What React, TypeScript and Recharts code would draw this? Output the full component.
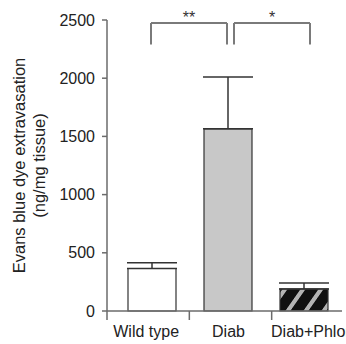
import React from "react";
import { BarChart, Bar, XAxis, YAxis, ErrorBar, Cell, ReferenceLine } from "recharts";

const groups = ["Wild type", "Diab", "Diab+Phlor"];
const extravasation = [365, 1565, 190];
const sem = [50, 445, 50];
const yTicks = [0, 500, 1000, 1500, 2000, 2500];
const barFills = ["#ffffff", "#c8c8c8", "url(#phlorHatch)"];

// significance brackets between groups
const comparisons = [
  { from: "Wild type", to: "Diab", stars: "**" },
  { from: "Diab", to: "Diab+Phlor", stars: "*" },
];
const bracketTop = 2475;
const bracketFoot = 2290;

const data = groups.map((group, i) => ({
  group,
  value: extravasation[i],
  err: [0, sem[i]],
}));

const FONT = "'Liberation Sans', Arial, Helvetica, sans-serif";
const AXIS = "#6b6b6b";
const BRACKET = "#7a7a7a";
const titleStyle = { fontSize: "16.5px", fontFamily: FONT, fill: "#222" };

function GroupTick(props: any) {
  const { x, y, payload, index } = props;
  const half = payload && payload.offset ? payload.offset : 41;
  return (
    <g>
      {index < groups.length - 1 && (
        <line x1={x + half} x2={x + half} y1={y - 15} y2={y - 6} stroke={AXIS} strokeWidth={1.5} />
      )}
      <text x={x - 2} y={y} dy="0.71em" textAnchor="middle" fontSize={16} fill="#222">
        {payload.value}
      </text>
    </g>
  );
}

// the y axis line runs a little past the x axis
function AxisCorner(props: any) {
  const vb = props.viewBox || {};
  return <line x1={vb.x} x2={vb.x} y1={vb.y} y2={vb.y + 9} stroke={AXIS} strokeWidth={1.5} />;
}

function YTitle(props: any) {
  const vb = props.viewBox || {};
  const cy = vb.y + vb.height / 2;
  const x1 = vb.x - 28;
  const x2 = vb.x - 8;
  return (
    <g>
      <text x={x1} y={cy} dy="0.35em" textAnchor="middle" style={titleStyle} transform={`rotate(-90 ${x1} ${cy})`}>
        Evans blue dye extravasation
      </text>
      <text x={x2} y={cy} dy="0.35em" textAnchor="middle" style={titleStyle} transform={`rotate(-90 ${x2} ${cy})`}>
        (ng/mg tissue)
      </text>
    </g>
  );
}

// brackets that share a bar are pulled apart a little
function bracketShape(dx: number, stars?: string) {
  return (p: any) => (
    <g>
      <line x1={p.x1 + dx} x2={p.x2 + dx} y1={p.y1} y2={p.y2} stroke={BRACKET} strokeWidth={2} />
      {stars && (
        <text x={(p.x1 + p.x2) / 2 + dx} y={p.y1 + 0.5} textAnchor="middle" fontSize={16} fill="#333">
          {stars}
        </text>
      )}
    </g>
  );
}

export default function App() {
  return (
    <div style={{ position: "absolute", left: 0, top: 0, background: "#fff" }}>
      <BarChart
        width={346}
        height={344}
        data={data}
        margin={{ top: 20, right: 4, bottom: 3, left: 47 }}
        style={{ fontFamily: FONT }}
      >
        <defs>
          <pattern
            id="phlorHatch"
            patternUnits="userSpaceOnUse"
            width="18"
            height="18"
            patternTransform="skewX(-35)"
          >
            <rect width="18" height="18" fill="#111" />
            <rect x="0" width="4" height="18" fill="#b4b4b4" />
            <rect x="17" width="1" height="18" fill="#b4b4b4" />
          </pattern>
        </defs>
        <XAxis
          dataKey="group"
          padding={{ left: 0, right: -12 }}
          height={30}
          tickLine={false}
          tickSize={9}
          tickMargin={6}
          axisLine={{ stroke: AXIS, strokeWidth: 1.5 }}
          tick={<GroupTick />}
          interval={0}
          label={<AxisCorner />}
        />
        <XAxis xAxisId="bars" dataKey="group" hide padding={{ left: 7, right: 0 }} />
        <YAxis
          width={60}
          domain={[0, 2500]}
          ticks={yTicks}
          tickSize={5}
          tickMargin={7}
          tickLine={{ stroke: AXIS, strokeWidth: 1.5 }}
          axisLine={{ stroke: AXIS, strokeWidth: 1.5 }}
          tick={{ fontSize: 16, fill: "#222" }}
          label={<YTitle />}
        />
        <Bar xAxisId="bars" dataKey="value" barSize={48} stroke="#333" strokeWidth={1.2} isAnimationActive={false}>
          {data.map((d, i) => (
            <Cell key={d.group} fill={barFills[i]} />
          ))}
          <ErrorBar dataKey="err" direction="y" width={25} stroke="#333" strokeWidth={1.5} isAnimationActive={false} />
        </Bar>
        {comparisons.map((c, i) => {
          const dx = i === 0 ? -1 : 6;
          return (
            <React.Fragment key={c.from + c.to}>
              <ReferenceLine
                xAxisId="bars"
                segment={[
                  { x: c.from, y: bracketTop },
                  { x: c.to, y: bracketTop },
                ]}
                shape={bracketShape(dx, c.stars)}
              />
              <ReferenceLine
                xAxisId="bars"
                segment={[
                  { x: c.from, y: bracketFoot },
                  { x: c.from, y: bracketTop },
                ]}
                shape={bracketShape(dx)}
              />
              <ReferenceLine
                xAxisId="bars"
                segment={[
                  { x: c.to, y: bracketFoot },
                  { x: c.to, y: bracketTop },
                ]}
                shape={bracketShape(dx)}
              />
            </React.Fragment>
          );
        })}
      </BarChart>
    </div>
  );
}
